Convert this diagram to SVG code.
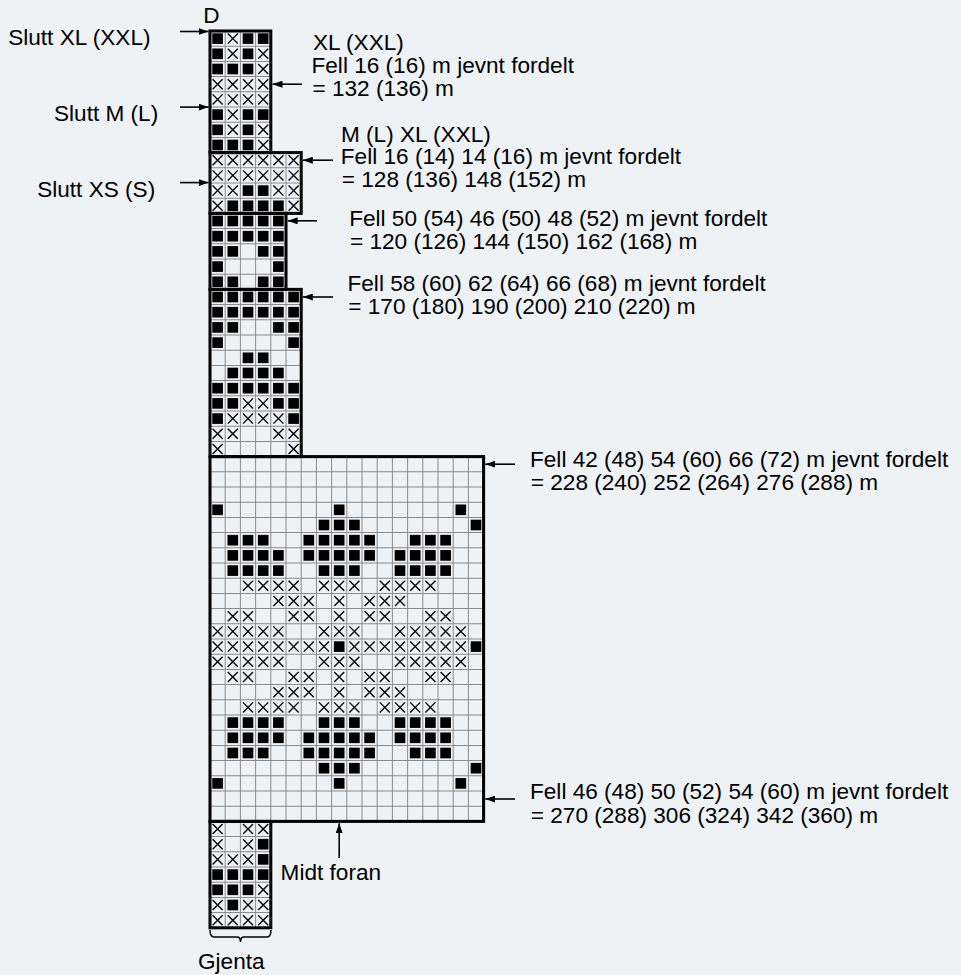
<svg xmlns="http://www.w3.org/2000/svg" xmlns:xlink="http://www.w3.org/1999/xlink" width="961" height="975" viewBox="0 0 961 975">
<style>
text{font-family:"Liberation Sans",Arial,Helvetica,sans-serif;font-size:22.6px;fill:#000}
.grid{stroke:#8a8a8a;stroke-width:0.066;fill:none}
.out{stroke:#000;stroke-width:0.2;fill:none}
.cn{stroke:#000;stroke-width:1.6;fill:none;marker-end:url(#ah)}
</style>
<defs>
<rect id="b" x="0.15" y="0.15" width="0.7" height="0.7" fill="#000"/>
<path id="x" d="M0.17 0.17L0.83 0.83M0.83 0.17L0.17 0.83" stroke="#000" stroke-width="0.09" fill="none"/>
<marker id="ah" markerUnits="userSpaceOnUse" markerWidth="10" markerHeight="7" refX="10" refY="3.5" orient="auto">
<path d="M0 0L10 3.5L0 7z" fill="#000"/>
</marker>
</defs>
<rect width="961" height="975" fill="#eef2f5"/>
<g id="chart" transform="translate(210,31) scale(15.2)">
<g id="s1">
<path class="grid" d="M1 0V8M2 0V8M3 0V8M0 1H4M0 2H4M0 3H4M0 4H4M0 5H4M0 6H4M0 7H4"/>
<use href="#b" x="0" y="0"/><use href="#x" x="1" y="0"/><use href="#b" x="2" y="0"/><use href="#b" x="3" y="0"/>
<use href="#b" x="0" y="1"/><use href="#x" x="1" y="1"/><use href="#b" x="2" y="1"/><use href="#x" x="3" y="1"/>
<use href="#b" x="0" y="2"/><use href="#b" x="1" y="2"/><use href="#b" x="2" y="2"/><use href="#x" x="3" y="2"/>
<use href="#x" x="0" y="3"/><use href="#x" x="1" y="3"/><use href="#x" x="2" y="3"/><use href="#x" x="3" y="3"/>
<use href="#x" x="0" y="4"/><use href="#x" x="1" y="4"/><use href="#x" x="2" y="4"/><use href="#x" x="3" y="4"/>
<use href="#b" x="0" y="5"/><use href="#x" x="1" y="5"/><use href="#b" x="2" y="5"/><use href="#b" x="3" y="5"/>
<use href="#b" x="0" y="6"/><use href="#x" x="1" y="6"/><use href="#b" x="2" y="6"/><use href="#x" x="3" y="6"/>
<use href="#b" x="0" y="7"/><use href="#b" x="1" y="7"/><use href="#b" x="2" y="7"/><use href="#x" x="3" y="7"/>
<rect class="out" x="0" y="0" width="4" height="8"/>
</g>
<g id="s2">
<path class="grid" d="M1 8V12M2 8V12M3 8V12M4 8V12M5 8V12M0 9H6M0 10H6M0 11H6"/>
<use href="#x" x="0" y="8"/><use href="#x" x="1" y="8"/><use href="#x" x="2" y="8"/><use href="#x" x="3" y="8"/><use href="#x" x="4" y="8"/><use href="#x" x="5" y="8"/>
<use href="#x" x="0" y="9"/><use href="#x" x="1" y="9"/><use href="#x" x="2" y="9"/><use href="#x" x="3" y="9"/><use href="#x" x="4" y="9"/><use href="#x" x="5" y="9"/>
<use href="#x" x="0" y="10"/><use href="#x" x="1" y="10"/><use href="#b" x="2" y="10"/><use href="#b" x="3" y="10"/><use href="#x" x="4" y="10"/><use href="#x" x="5" y="10"/>
<use href="#x" x="0" y="11"/><use href="#b" x="1" y="11"/><use href="#b" x="2" y="11"/><use href="#b" x="3" y="11"/><use href="#b" x="4" y="11"/><use href="#x" x="5" y="11"/>
<rect class="out" x="0" y="8" width="6" height="4"/>
</g>
<g id="s3">
<path class="grid" d="M1 12V17M2 12V17M3 12V17M4 12V17M0 13H5M0 14H5M0 15H5M0 16H5"/>
<use href="#b" x="0" y="12"/><use href="#b" x="1" y="12"/><use href="#b" x="2" y="12"/><use href="#b" x="3" y="12"/><use href="#b" x="4" y="12"/>
<use href="#b" x="0" y="13"/><use href="#b" x="1" y="13"/><use href="#b" x="2" y="13"/><use href="#b" x="3" y="13"/><use href="#b" x="4" y="13"/>
<use href="#b" x="0" y="14"/><use href="#b" x="1" y="14"/><use href="#b" x="3" y="14"/><use href="#b" x="4" y="14"/>
<use href="#b" x="0" y="15"/><use href="#b" x="4" y="15"/>
<use href="#b" x="0" y="16"/><use href="#b" x="1" y="16"/><use href="#b" x="3" y="16"/><use href="#b" x="4" y="16"/>
<rect class="out" x="0" y="12" width="5" height="5"/>
</g>
<g id="s4">
<path class="grid" d="M1 17V28M2 17V28M3 17V28M4 17V28M5 17V28M0 18H6M0 19H6M0 20H6M0 21H6M0 22H6M0 23H6M0 24H6M0 25H6M0 26H6M0 27H6"/>
<use href="#b" x="0" y="17"/><use href="#b" x="1" y="17"/><use href="#b" x="2" y="17"/><use href="#b" x="3" y="17"/><use href="#b" x="4" y="17"/><use href="#b" x="5" y="17"/>
<use href="#b" x="0" y="18"/><use href="#b" x="1" y="18"/><use href="#b" x="2" y="18"/><use href="#b" x="3" y="18"/><use href="#b" x="4" y="18"/><use href="#b" x="5" y="18"/>
<use href="#b" x="0" y="19"/><use href="#b" x="1" y="19"/><use href="#b" x="4" y="19"/><use href="#b" x="5" y="19"/>
<use href="#b" x="0" y="20"/><use href="#b" x="5" y="20"/>
<use href="#b" x="2" y="21"/><use href="#b" x="3" y="21"/>
<use href="#b" x="1" y="22"/><use href="#b" x="2" y="22"/><use href="#b" x="3" y="22"/><use href="#b" x="4" y="22"/>
<use href="#b" x="0" y="23"/><use href="#b" x="1" y="23"/><use href="#b" x="2" y="23"/><use href="#b" x="3" y="23"/><use href="#b" x="4" y="23"/><use href="#b" x="5" y="23"/>
<use href="#b" x="0" y="24"/><use href="#b" x="1" y="24"/><use href="#x" x="2" y="24"/><use href="#x" x="3" y="24"/><use href="#b" x="4" y="24"/><use href="#b" x="5" y="24"/>
<use href="#b" x="0" y="25"/><use href="#x" x="1" y="25"/><use href="#x" x="2" y="25"/><use href="#x" x="3" y="25"/><use href="#x" x="4" y="25"/><use href="#b" x="5" y="25"/>
<use href="#x" x="0" y="26"/><use href="#x" x="1" y="26"/><use href="#x" x="4" y="26"/><use href="#x" x="5" y="26"/>
<use href="#x" x="0" y="27"/><use href="#x" x="5" y="27"/>
<rect class="out" x="0" y="17" width="6" height="11"/>
</g>
<g id="s5">
<path class="grid" d="M1 28V52M2 28V52M3 28V52M4 28V52M5 28V52M6 28V52M7 28V52M8 28V52M9 28V52M10 28V52M11 28V52M12 28V52M13 28V52M14 28V52M15 28V52M16 28V52M17 28V52M0 29H18M0 30H18M0 31H18M0 32H18M0 33H18M0 34H18M0 35H18M0 36H18M0 37H18M0 38H18M0 39H18M0 40H18M0 41H18M0 42H18M0 43H18M0 44H18M0 45H18M0 46H18M0 47H18M0 48H18M0 49H18M0 50H18M0 51H18"/>
<g id="r31"><use href="#b" x="0" y="31"/><use href="#b" x="8" y="31"/><use href="#b" x="16" y="31"/></g>
<g id="r32"><use href="#b" x="7" y="32"/><use href="#b" x="8" y="32"/><use href="#b" x="9" y="32"/><use href="#b" x="17" y="32"/></g>
<g id="r33"><use href="#b" x="1" y="33"/><use href="#b" x="2" y="33"/><use href="#b" x="3" y="33"/><use href="#b" x="6" y="33"/><use href="#b" x="7" y="33"/><use href="#b" x="8" y="33"/><use href="#b" x="9" y="33"/><use href="#b" x="10" y="33"/><use href="#b" x="13" y="33"/><use href="#b" x="14" y="33"/><use href="#b" x="15" y="33"/></g>
<g id="r34"><use href="#b" x="1" y="34"/><use href="#b" x="2" y="34"/><use href="#b" x="3" y="34"/><use href="#b" x="4" y="34"/><use href="#b" x="6" y="34"/><use href="#b" x="7" y="34"/><use href="#b" x="8" y="34"/><use href="#b" x="9" y="34"/><use href="#b" x="10" y="34"/><use href="#b" x="12" y="34"/><use href="#b" x="13" y="34"/><use href="#b" x="14" y="34"/><use href="#b" x="15" y="34"/></g>
<g id="r35"><use href="#b" x="1" y="35"/><use href="#b" x="2" y="35"/><use href="#b" x="3" y="35"/><use href="#b" x="4" y="35"/><use href="#b" x="7" y="35"/><use href="#b" x="8" y="35"/><use href="#b" x="9" y="35"/><use href="#b" x="12" y="35"/><use href="#b" x="13" y="35"/><use href="#b" x="14" y="35"/><use href="#b" x="15" y="35"/></g>
<g id="r36"><use href="#x" x="2" y="36"/><use href="#x" x="3" y="36"/><use href="#x" x="4" y="36"/><use href="#x" x="5" y="36"/><use href="#x" x="7" y="36"/><use href="#x" x="8" y="36"/><use href="#x" x="9" y="36"/><use href="#x" x="11" y="36"/><use href="#x" x="12" y="36"/><use href="#x" x="13" y="36"/><use href="#x" x="14" y="36"/></g>
<g id="r37"><use href="#x" x="4" y="37"/><use href="#x" x="5" y="37"/><use href="#x" x="6" y="37"/><use href="#x" x="8" y="37"/><use href="#x" x="10" y="37"/><use href="#x" x="11" y="37"/><use href="#x" x="12" y="37"/></g>
<g id="r38"><use href="#x" x="1" y="38"/><use href="#x" x="2" y="38"/><use href="#x" x="5" y="38"/><use href="#x" x="6" y="38"/><use href="#x" x="8" y="38"/><use href="#x" x="10" y="38"/><use href="#x" x="11" y="38"/><use href="#x" x="14" y="38"/><use href="#x" x="15" y="38"/></g>
<g id="r39"><use href="#x" x="0" y="39"/><use href="#x" x="1" y="39"/><use href="#x" x="2" y="39"/><use href="#x" x="3" y="39"/><use href="#x" x="4" y="39"/><use href="#x" x="7" y="39"/><use href="#x" x="8" y="39"/><use href="#x" x="9" y="39"/><use href="#x" x="12" y="39"/><use href="#x" x="13" y="39"/><use href="#x" x="14" y="39"/><use href="#x" x="15" y="39"/><use href="#x" x="16" y="39"/></g>
<g id="r40"><use href="#x" x="0" y="40"/><use href="#x" x="1" y="40"/><use href="#x" x="2" y="40"/><use href="#x" x="3" y="40"/><use href="#x" x="4" y="40"/><use href="#x" x="5" y="40"/><use href="#x" x="6" y="40"/><use href="#x" x="7" y="40"/><use href="#b" x="8" y="40"/><use href="#x" x="9" y="40"/><use href="#x" x="10" y="40"/><use href="#x" x="11" y="40"/><use href="#x" x="12" y="40"/><use href="#x" x="13" y="40"/><use href="#x" x="14" y="40"/><use href="#x" x="15" y="40"/><use href="#x" x="16" y="40"/><use href="#b" x="17" y="40"/></g>
<use href="#r39" y="2"/>
<use href="#r38" y="4"/>
<use href="#r37" y="6"/>
<use href="#r36" y="8"/>
<use href="#r35" y="10"/>
<use href="#r34" y="12"/>
<use href="#r33" y="14"/>
<use href="#r32" y="16"/>
<use href="#r31" y="18"/>
<rect class="out" x="0" y="28" width="18" height="24"/>
</g>
<g id="s6">
<path class="grid" d="M1 52V59M2 52V59M3 52V59M0 53H4M0 54H4M0 55H4M0 56H4M0 57H4M0 58H4"/>
<use href="#x" x="0" y="52"/><use href="#x" x="2" y="52"/><use href="#x" x="3" y="52"/>
<use href="#x" x="0" y="53"/><use href="#x" x="2" y="53"/><use href="#b" x="3" y="53"/>
<use href="#x" x="0" y="54"/><use href="#x" x="1" y="54"/><use href="#x" x="2" y="54"/><use href="#b" x="3" y="54"/>
<use href="#b" x="0" y="55"/><use href="#b" x="1" y="55"/><use href="#b" x="2" y="55"/><use href="#b" x="3" y="55"/>
<use href="#b" x="0" y="56"/><use href="#b" x="1" y="56"/><use href="#b" x="2" y="56"/><use href="#x" x="3" y="56"/>
<use href="#x" x="0" y="57"/><use href="#b" x="1" y="57"/><use href="#x" x="2" y="57"/><use href="#x" x="3" y="57"/>
<use href="#x" x="0" y="58"/><use href="#x" x="1" y="58"/><use href="#x" x="2" y="58"/><use href="#x" x="3" y="58"/>
<rect class="out" x="0" y="52" width="4" height="7"/>
</g>
</g>
<g id="connectors">
<line class="cn" x1="180" y1="31.5" x2="208.5" y2="31.5"/>
<line class="cn" x1="180" y1="107.1" x2="208.5" y2="107.1"/>
<line class="cn" x1="180" y1="182.6" x2="208.5" y2="182.6"/>
<line class="cn" x1="302" y1="84.2" x2="272.5" y2="84.2"/>
<line class="cn" x1="333" y1="160.2" x2="302.8" y2="160.2"/>
<line class="cn" x1="317" y1="220.8" x2="287.7" y2="220.8"/>
<line class="cn" x1="333" y1="297" x2="302.8" y2="297"/>
<line class="cn" x1="515" y1="464.2" x2="485.3" y2="464.2"/>
<line class="cn" x1="515" y1="799" x2="485.3" y2="799"/>
<line class="cn" x1="339.2" y1="858" x2="339.2" y2="823.2"/>
<path d="M210 930Q210 937 214 937H237Q240.5 937 240.5 942Q240.5 937 244 937H267Q271 937 271 930" stroke="#000" stroke-width="1.5" fill="none"/>
</g>
<g id="labels">
<text x="203.2" y="23">D</text>
<text x="8.2" y="45">Slutt XL (XXL)</text>
<text x="54" y="120.7">Slutt M (L)</text>
<text x="37.2" y="196.7">Slutt XS (S)</text>
<text x="313" y="50">XL (XXL)</text>
<text x="311.5" y="73">Fell 16 (16) m jevnt fordelt</text>
<text x="312.5" y="95.7">= 132 (136) m</text>
<text x="341" y="141.7">M (L) XL (XXL)</text>
<text x="340.8" y="164.3">Fell 16 (14) 14 (16) m jevnt fordelt</text>
<text x="341.8" y="187">= 128 (136) 148 (152) m</text>
<text x="349.2" y="226">Fell 50 (54) 46 (50) 48 (52) m jevnt fordelt</text>
<text x="350" y="248.6">= 120 (126) 144 (150) 162 (168) m</text>
<text x="347.5" y="291">Fell 58 (60) 62 (64) 66 (68) m jevnt fordelt</text>
<text x="348.3" y="313.6">= 170 (180) 190 (200) 210 (220) m</text>
<text x="530" y="466.7">Fell 42 (48) 54 (60) 66 (72) m jevnt fordelt</text>
<text x="530.8" y="490">= 228 (240) 252 (264) 276 (288) m</text>
<text x="530" y="799.3">Fell 46 (48) 50 (52) 54 (60) m jevnt fordelt</text>
<text x="530.8" y="822.7">= 270 (288) 306 (324) 342 (360) m</text>
<text x="280.6" y="880">Midt foran</text>
<text x="198" y="969">Gjenta</text>
</g>
</svg>
